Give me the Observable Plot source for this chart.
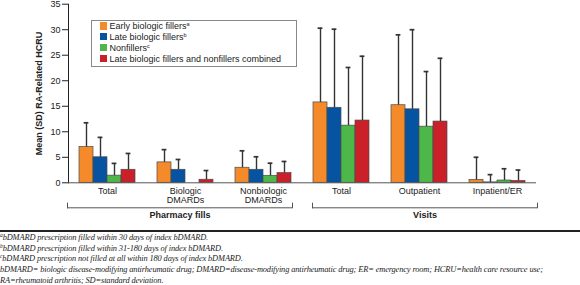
<!DOCTYPE html>
<html><head><meta charset="utf-8">
<script src="https://cdn.jsdelivr.net/npm/d3@7"></script>
<script src="https://cdn.jsdelivr.net/npm/@observablehq/plot@0.6"></script>
<style>
body{margin:0;background:#fff;font-family:"Liberation Sans",Arial,sans-serif;}
#wrap{position:relative;width:580px;}
#wrap svg{display:block;}
g[aria-label="y-axis label"] text{font-weight:bold;}
#legend{position:absolute;left:90.5px;top:20px;width:206px;height:47px;box-sizing:border-box;border:1px solid #888;background:#fff;padding:0 0 0 8.5px;font-size:9px;color:#222;}
#legend .row{height:10.9px;line-height:10.9px;white-space:nowrap;}
#legend .sw{display:inline-block;width:7px;height:7.5px;margin-right:2.5px;vertical-align:-0.5px;}
#legend sup, #notes sup{font-size:5.5px;line-height:0;vertical-align:3px;}
#notes{border-top:2px solid #222;margin-top:6.5px;padding-top:1.5px;font:italic 8.4px "Liberation Serif","DejaVu Serif",serif;letter-spacing:-0.13px;line-height:10.65px;color:#222;}
#notes div{white-space:nowrap;}
</style></head><body><div id="wrap"></div>
<script>
const categories = ["Total", "Biologic\nDMARDs", "Nonbiologic\nDMARDs", "Total", "Outpatient", "Inpatient/ER"];
const groups = ["Pharmacy fills", "Visits"];
const series = ["Early biologic fillers", "Late biologic fillers", "Nonfillers", "Late biologic fillers and nonfillers combined"];
const seriesNotes = ["a", "b", "c", ""];
const colors = ["#F58A2B", "#0553A1", "#4DB74A", "#C9202A"];
const earlyMean = [7.0, 4.0, 2.95, 15.75, 15.2, 0.55];
const earlySD   = [4.76, 2.5, 3.32, 14.55, 13.8, 4.45];
const lateMean  = [5.0, 2.55, 2.55, 14.7, 14.4, 0.08];
const lateSD    = [3.9, 2.02, 2.55, 15.4, 15.6, 1.52];
const nonMean   = [1.4, null, 1.37, 11.2, 11.0, 0.45];
const nonSD     = [2.4, null, 2.47, 11.4, 10.8, 2.3];
const combMean  = [2.55, 0.6, 1.9, 12.2, 12.0, 0.35];
const combSD    = [3.2, 1.8, 2.28, 12.6, 12.4, 2.15];
const yTicks = [0, 5, 10, 15, 20, 25, 30, 35];
const yLabel = "Mean (SD) RA-Related HCRU";
const footnotes = [
  ["a", "bDMARD prescription filled within 30 days of index bDMARD."],
  ["b", "bDMARD prescription filled within 31-180 days of index bDMARD."],
  ["c", "bDMARD prescription not filled at all within 180 days of index bDMARD."],
  ["", "bDMARD= biologic disease-modifying antirheumatic drug; DMARD=disease-modifying antirheumatic drug; ER= emergency room; HCRU=health care resource use;"],
  ["", "RA=rheumatoid arthritis; SD=standard deviation."]
];

const means = [earlyMean, lateMean, nonMean, combMean];
const sds = [earlySD, lateSD, nonSD, combSD];
const rows = [];
series.forEach((s, j) => categories.forEach((c, i) => {
  if (means[j][i] != null) rows.push({cat: i, series: s, mean: means[j][i], sd: sds[j][i]});
}));

const font = '"Liberation Sans", Arial, sans-serif';
const wrap = document.getElementById("wrap");

const main = Plot.plot({
  width: 580, height: 202,
  marginLeft: 66, marginRight: 42, marginTop: 3.7, marginBottom: 19.7,
  style: {fontFamily: font, fontSize: "9px", color: "#222", overflow: "visible", background: "transparent"},
  fx: {domain: d3.range(categories.length), padding: 0, axis: "bottom", label: null, tickSize: 0, tickPadding: 5, tickFormat: i => categories[i]},
  x: {domain: series, paddingInner: 0, paddingOuter: 0.71, axis: null},
  y: {domain: [0, 35], ticks: yTicks, tickSize: 6, tickPadding: 2, line: true, label: yLabel, labelAnchor: "center", labelArrow: "none", labelOffset: 33},
  color: {domain: series, range: colors},
  marks: [
    Plot.barY(rows, {fx: "cat", x: "series", y: "mean", fill: "series", stroke: "#4a4a4a", strokeWidth: 0.7}),
    Plot.ruleX(rows, {fx: "cat", x: "series", y1: "mean", y2: d => d.mean + d.sd, stroke: "#333", strokeWidth: 1.4}),
    Plot.tickY(rows, {fx: "cat", x: "series", y: d => d.mean + d.sd, stroke: "#333", strokeWidth: 1.7, insetLeft: 4.6, insetRight: 4.6}),
    Plot.ruleY([0], {stroke: "#555"})
  ]
});
wrap.appendChild(main);

const bracket = Plot.plot({
  width: 580, height: 21,
  marginLeft: 66, marginRight: 42, marginTop: 0.7, marginBottom: 15.7,
  style: {fontFamily: font, fontSize: "9px", fontWeight: "bold", color: "#222", overflow: "visible", background: "transparent"},
  fx: {domain: groups, paddingInner: 0.0813, paddingOuter: 0, axis: "bottom", label: null, tickSize: 0, tickPadding: 4},
  y: {domain: [0, 1], axis: null},
  marks: [
    Plot.ruleY(groups, {fx: d => d, y: () => 0, stroke: "#555"}),
    Plot.frame({anchor: "left", stroke: "#555"}),
    Plot.frame({anchor: "right", stroke: "#555"})
  ]
});
wrap.appendChild(bracket);

const legend = document.createElement("div");
legend.id = "legend";
series.forEach((s, j) => {
  const row = document.createElement("div");
  row.className = "row";
  const sw = document.createElement("span");
  sw.className = "sw";
  sw.style.background = colors[j];
  row.appendChild(sw);
  row.appendChild(document.createTextNode(s));
  if (seriesNotes[j]) {
    const sup = document.createElement("sup");
    sup.textContent = seriesNotes[j];
    row.appendChild(sup);
  }
  legend.appendChild(row);
});
wrap.appendChild(legend);

const notes = document.createElement("div");
notes.id = "notes";
footnotes.forEach(([m, t]) => {
  const d = document.createElement("div");
  if (m) { const sup = document.createElement("sup"); sup.textContent = m; d.appendChild(sup); }
  d.appendChild(document.createTextNode(t));
  notes.appendChild(d);
});
wrap.appendChild(notes);
</script>
</body></html>
